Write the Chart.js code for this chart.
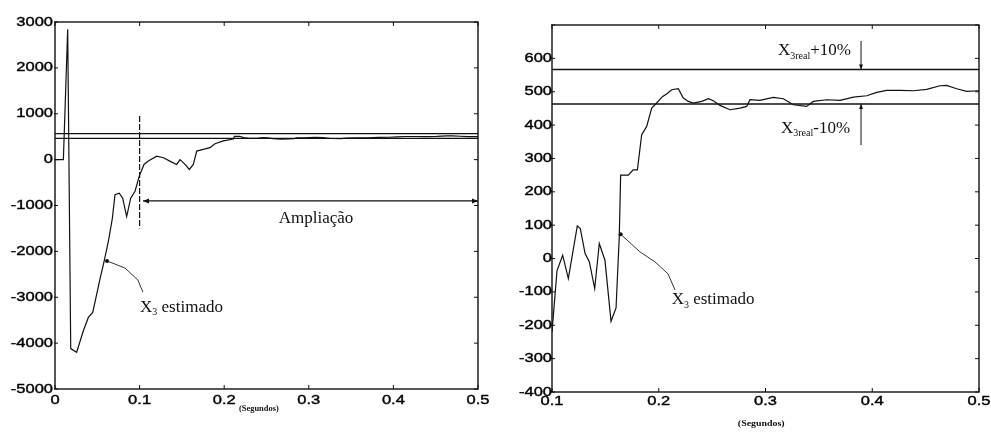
<!DOCTYPE html>
<html>
<head>
<meta charset="utf-8">
<script src="https://cdn.jsdelivr.net/npm/chart.js@4.4.1/dist/chart.umd.min.js"></script>
<style>
body { margin: 0; background: #fff; width: 991px; height: 435px; overflow: hidden; position: relative; }
canvas { position: absolute; top: 0; }
#left { left: 0; }
#right { left: 491px; }
</style>
</head>
<body>
<canvas id="left" width="491" height="435"></canvas>
<canvas id="right" width="500" height="435"></canvas>
<script>
// X3 estimado, full run (0 - 0.21 s)
const leftT = [0, 0.0099, 0.015, 0.0186, 0.0256, 0.0335, 0.0394, 0.0446, 0.0493, 0.0532, 0.0579, 0.063, 0.0678,
  0.0709, 0.076, 0.08, 0.0847, 0.0895, 0.0946, 0.0996, 0.1052, 0.1103, 0.1202, 0.1281, 0.138, 0.1438, 0.1478,
  0.1537, 0.1588, 0.1635, 0.1675, 0.1753, 0.1832, 0.1891, 0.199, 0.2108];
const leftV = [0, 0, 2840, -4120, -4200, -3730, -3440, -3330, -2930, -2600, -2230, -1790, -1280,
  -765, -730, -840, -1240, -840, -690, -360, -105, -30, 75, 40, -55, -105, 0,
  -105, -215, -105, 187, 225, 260, 347, 407, 450];

// X3 estimado, zoomed (0.1 - 0.5 s, right plot)
const rightT = [0.1, 0.1047, 0.110, 0.1153, 0.1237, 0.1265, 0.131, 0.135, 0.140, 0.1443, 0.1496, 0.1553, 0.16,
  0.163, 0.1643, 0.1715, 0.176, 0.18, 0.184, 0.1887, 0.1934, 0.1965, 0.2037, 0.2074, 0.2121, 0.2183, 0.223,
  0.2277, 0.2324, 0.2402, 0.2465, 0.2511, 0.2574, 0.2667, 0.2761, 0.2824, 0.2855, 0.2948, 0.3073, 0.3167,
  0.326, 0.3385, 0.3448, 0.3573, 0.3698, 0.3823, 0.3948, 0.4042, 0.4135, 0.426, 0.4385, 0.451, 0.4635,
  0.4697, 0.4791, 0.4885, 0.5];
const rightV = [-220, -36, 10, -60, 98, 90, 15, -10, -90, 45, -5, -188, -148,
  65, 250, 250, 266, 266, 371, 396, 451, 461, 486, 493, 506, 509, 481,
  471, 466, 471, 479, 473, 459, 446, 451, 456, 476, 474, 483, 479,
  461, 456, 471, 476, 474, 484, 488, 498, 504, 504, 503, 507, 518,
  519, 509, 501, 503];

const xRealPlus = 566.5, xRealMinus = 463.5;
const xTicks = [0, 0.1, 0.2, 0.3, 0.4, 0.5];
const leftYTicks = [-5000, 3000, 1000];   // min, max, step
const rightYTicks = [-400, 700, 100];
const INK = '#111';
const SANS = '"Liberation Sans", Arial, sans-serif';
const SERIF = '"Liberation Serif", "Times New Roman", serif';
const SX = 1.27; // scanned labels are wide

const pts = (t, v) => t.map((x, i) => ({ x, y: v[i] }));
const lastLeft = leftT[leftT.length - 1];
const leftFull = pts(leftT, leftV).concat(pts(rightT, rightV).filter(p => p.x > lastLeft));

function line(ctx, x1, y1, x2, y2) { ctx.beginPath(); ctx.moveTo(x1, y1); ctx.lineTo(x2, y2); ctx.stroke(); }
function head(ctx, x, y, dx, dy, len = 6, w = 2.5) {
    const nx = -dy, ny = dx;
    ctx.beginPath();
    ctx.moveTo(x, y);
    ctx.lineTo(x - dx * len + nx * w, y - dy * len + ny * w);
    ctx.lineTo(x - dx * len - nx * w, y - dy * len - ny * w);
    ctx.closePath(); ctx.fill();
}
function wide(ctx, s, x, y, align, sx = SX, bold = 0) {
    ctx.save(); ctx.translate(x, y); ctx.scale(sx, 1);
    ctx.textAlign = align; ctx.textBaseline = 'middle'; ctx.fillText(s, 0, 0);
    if (bold) { ctx.lineWidth = bold; ctx.strokeStyle = ctx.fillStyle; ctx.strokeText(s, 0, 0); }
    ctx.restore();
}
// parts: [text, isSub]
function richText(ctx, x, y, parts, size = 17) {
    ctx.textBaseline = 'middle'; ctx.textAlign = 'left';
    parts.forEach(([s, sub]) => {
        ctx.font = (sub ? Math.round(size * 0.6) : size) + 'px ' + SERIF;
        ctx.fillText(s, x, sub ? y + 5 : y);
        x += ctx.measureText(s).width;
    });
}

// box, inward ticks and the stretched tick labels
const frame = {
    id: 'frame',
    afterDatasetsDraw(chart) {
        const { ctx, chartArea: a, scales: { x, y } } = chart;
        const o = chart.options.plugins.frame;
        ctx.save();
        ctx.strokeStyle = INK; ctx.lineWidth = 1.4;
        ctx.strokeRect(a.left, a.top, a.right - a.left, a.bottom - a.top);
        ctx.lineWidth = 1;
        x.ticks.forEach(t => { const p = x.getPixelForValue(t.value); line(ctx, p, a.top, p, a.top + 4); line(ctx, p, a.bottom, p, a.bottom - 4); });
        y.ticks.forEach(t => { const p = y.getPixelForValue(t.value); line(ctx, a.right - 4, p, a.right, p); line(ctx, a.left - 1, p, a.left + 3, p); });
        ctx.fillStyle = '#000';
        ctx.font = '13px ' + SANS;
        x.ticks.forEach(t => wide(ctx, t.label, x.getPixelForValue(t.value), a.bottom + o.xGap, 'center', SX, 0.4));
        y.ticks.forEach(t => wide(ctx, t.label, a.left - o.yGap, y.getPixelForValue(t.value), 'right', SX, 0.4));
        ctx.restore();
    }
};

function leaderTo(ctx, c, path) {
    const p = path.map(([t, v]) => [c.x.getPixelForValue(t), c.y.getPixelForValue(v)]);
    ctx.lineWidth = 1; ctx.strokeStyle = '#333';
    ctx.beginPath(); ctx.moveTo(p[0][0], p[0][1]);
    for (let i = 1; i < p.length; i++) ctx.lineTo(p[i][0], p[i][1]);
    ctx.stroke();
    ctx.fillStyle = INK;
    ctx.beginPath(); ctx.arc(p[0][0], p[0][1], 2, 0, Math.PI * 2); ctx.fill();
}

const leftNotes = {
    id: 'leftNotes',
    afterDatasetsDraw(chart) {
        const { ctx, chartArea: a, scales } = chart;
        const X = t => scales.x.getPixelForValue(t), Y = v => scales.y.getPixelForValue(v);
        ctx.save();
        ctx.strokeStyle = INK; ctx.fillStyle = INK; ctx.lineWidth = 1.2;
        ctx.setLineDash([6, 2]);
        line(ctx, X(0.1), Y(950), X(0.1), Y(-1500));
        ctx.setLineDash([]);
        line(ctx, X(0.104), Y(-900), X(0.5), Y(-900));
        head(ctx, X(0.104), Y(-900), -1, 0);
        head(ctx, X(0.5), Y(-900), 1, 0);
        ctx.font = '17px ' + SERIF; ctx.textAlign = 'center'; ctx.textBaseline = 'middle';
        ctx.fillText('Ampliação', X(0.3085), Y(-1290));
        leaderTo(ctx, scales, [[0.0615, -2209], [0.0827, -2363], [0.098, -2626], [0.104, -2890]]);
        ctx.fillStyle = INK;
        richText(ctx, X(0.1005), Y(-3230), [['X'], ['3', 1], [' estimado']]);
        ctx.font = 'bold 8px ' + SERIF;
        wide(ctx, '(Segundos)', X(0.241), a.bottom + 20, 'center', 1.05);
        ctx.restore();
    }
};

const rightNotes = {
    id: 'rightNotes',
    afterDatasetsDraw(chart) {
        const { ctx, chartArea: a, scales } = chart;
        const X = t => scales.x.getPixelForValue(t), Y = v => scales.y.getPixelForValue(v);
        ctx.save();
        ctx.strokeStyle = INK; ctx.fillStyle = INK; ctx.lineWidth = 1;
        line(ctx, X(0.3895), Y(652), X(0.3895), Y(xRealPlus));
        head(ctx, X(0.3895), Y(xRealPlus), 0, 1, 5, 2);
        line(ctx, X(0.3895), Y(340), X(0.3895), Y(xRealMinus));
        head(ctx, X(0.3895), Y(xRealMinus), 0, -1, 5, 2);
        richText(ctx, X(0.3117), Y(622), [['X'], ['3real', 1], ['+10%']]);
        richText(ctx, X(0.3145), Y(390), [['X'], ['3real', 1], ['-10%']]);
        leaderTo(ctx, scales, [[0.1643, 73], [0.1824, 20], [0.1965, -10], [0.2087, -46], [0.2152, -94]]);
        ctx.fillStyle = INK;
        richText(ctx, X(0.2121), Y(-124), [['X'], ['3', 1], [' estimado']]);
        ctx.font = 'bold 9px ' + SERIF;
        wide(ctx, '(Segundos)', X(0.296), a.bottom + 32, 'center', 1.1);
        ctx.restore();
    }
};

const lineDs = (data, w) => ({ data, borderColor: INK, borderWidth: w, pointRadius: 0, tension: 0, fill: false });
const fmtX = v => Math.abs(v) < 1e-9 ? '0' : (+v).toFixed(1);

function axes(xmin, ymin, ymax, ystep, yWidth, xHeight, hideTop) {
    return {
        x: {
            type: 'linear', min: xmin, max: 0.5,
            afterFit: s => { s.height = xHeight; },
            afterBuildTicks: s => { s.ticks = xTicks.filter(v => v >= xmin - 1e-9).map(value => ({ value })); },
            ticks: { display: false, callback: fmtX, autoSkip: false },
            grid: { display: false },
            border: { display: false },
        },
        y: {
            min: ymin, max: ymax,
            afterFit: s => { s.width = yWidth; },
            ticks: { display: false, stepSize: ystep, autoSkip: false, callback: v => (hideTop && v === ymax) ? '' : String(v) },
            grid: { display: false },
            border: { display: false },
        },
    };
}

const base = { responsive: false, animation: false };

new Chart(document.getElementById('left'), {
    type: 'line',
    data: {
        datasets: [
            lineDs([{ x: 0, y: xRealPlus }, { x: 0.5, y: xRealPlus }], 1.3),
            lineDs([{ x: 0, y: xRealMinus }, { x: 0.5, y: xRealMinus }], 1.3),
            lineDs(leftFull, 1.2),
        ],
    },
    options: { ...base, layout: { padding: { top: 22, right: 13 } },
        plugins: { legend: { display: false }, tooltip: { enabled: false }, frame: { xGap: 11, yGap: 2 } },
        scales: axes(0, leftYTicks[0], leftYTicks[1], leftYTicks[2], 55, 46, false) },
    plugins: [frame, leftNotes],
});

new Chart(document.getElementById('right'), {
    type: 'line',
    data: {
        datasets: [
            lineDs([{ x: 0.1, y: xRealPlus }, { x: 0.5, y: xRealPlus }], 1.5),
            lineDs([{ x: 0.1, y: xRealMinus }, { x: 0.5, y: xRealMinus }], 1.5),
            lineDs(pts(rightT, rightV), 1.2),
        ],
    },
    options: { ...base, layout: { padding: { top: 25, right: 12 } },
        plugins: { legend: { display: false }, tooltip: { enabled: false }, frame: { xGap: 9, yGap: 0 } },
        scales: axes(0.1, rightYTicks[0], rightYTicks[1], rightYTicks[2], 61, 43, true) },
    plugins: [frame, rightNotes],
});
</script>
</body>
</html>
